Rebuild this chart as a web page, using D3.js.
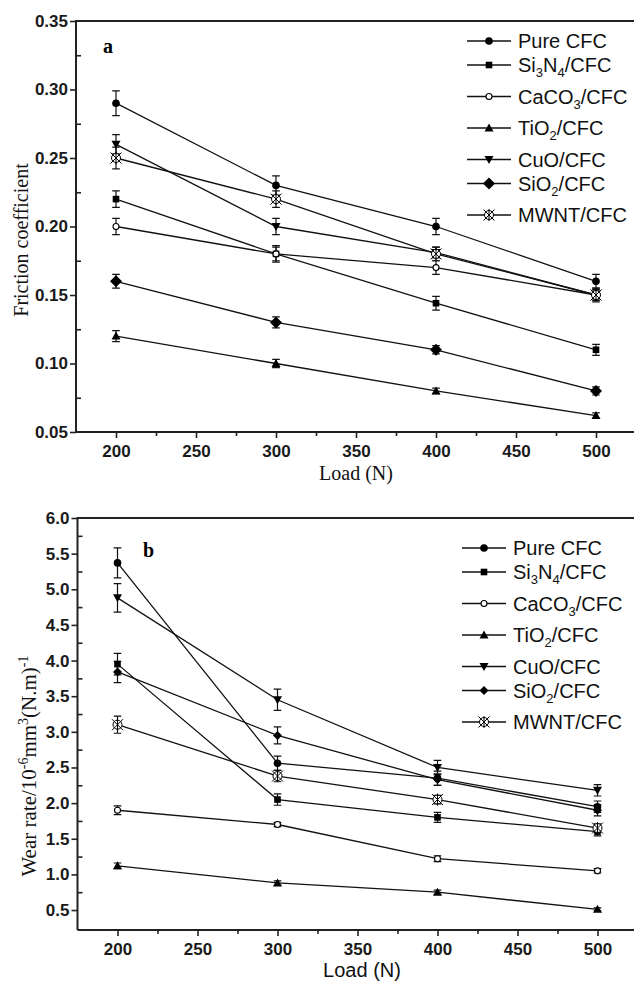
<!DOCTYPE html>
<html>
<head>
<meta charset="utf-8">
<script src="https://cdn.jsdelivr.net/npm/d3@7"></script>
<style>
  html, body { margin: 0; padding: 0; background: #fff; }
  svg { display: block; }
</style>
</head>
<body>
<svg id="chart" width="634" height="981"></svg>
<script>
// ---------------- DATA ----------------
const loads = [200, 300, 400, 500];
const legendLabels = ["Pure CFC", "Si_3N_4/CFC", "CaCO_3/CFC", "TiO_2/CFC", "CuO/CFC", "SiO_2/CFC", "MWNT/CFC"];
const markerTypes = ["circle", "square", "openCircle", "triangleUp", "triangleDown", "diamond", "mwnt"];

const xTicks = [200, 250, 300, 350, 400, 450, 500];
const xMinorTicks = [225, 275, 325, 375, 425, 475];

// (a) friction coefficient
const frictionPure  = [0.290, 0.230, 0.200, 0.160];
const frictionSi3N4 = [0.220, 0.180, 0.144, 0.110];
const frictionCaCO3 = [0.200, 0.180, 0.170, 0.150];
const frictionTiO2  = [0.120, 0.100, 0.080, 0.062];
const frictionCuO   = [0.260, 0.200, 0.181, 0.150];
const frictionSiO2  = [0.160, 0.130, 0.110, 0.080];
const frictionMWNT  = [0.250, 0.220, 0.180, 0.150];

const frictionErrPure  = [0.009, 0.007, 0.006, 0.005];
const frictionErrSi3N4 = [0.006, 0.006, 0.005, 0.004];
const frictionErrCaCO3 = [0.006, 0.005, 0.005, 0.003];
const frictionErrTiO2  = [0.004, 0.003, 0.002, 0.002];
const frictionErrCuO   = [0.007, 0.006, 0.004, 0.004];
const frictionErrSiO2  = [0.005, 0.004, 0.003, 0.003];
const frictionErrMWNT  = [0.008, 0.006, 0.005, 0.005];

const frictionTicks = [0.05, 0.10, 0.15, 0.20, 0.25, 0.30, 0.35];
const frictionMinorTicks = [0.075, 0.125, 0.175, 0.225, 0.275, 0.325];

// (b) wear rate
const wearPure  = [5.37, 2.56, 2.35, 1.95];
const wearSi3N4 = [3.95, 2.05, 1.80, 1.60];
const wearCaCO3 = [1.90, 1.70, 1.22, 1.05];
const wearTiO2  = [1.12, 0.88, 0.75, 0.51];
const wearCuO   = [4.88, 3.45, 2.50, 2.18];
const wearSiO2  = [3.84, 2.95, 2.33, 1.90];
const wearMWNT  = [3.10, 2.38, 2.05, 1.65];

const wearErrPure  = [0.21, 0.10, 0.10, 0.08];
const wearErrSi3N4 = [0.15, 0.08, 0.07, 0.06];
const wearErrCaCO3 = [0.06, 0.03, 0.04, 0.03];
const wearErrTiO2  = [0.04, 0.03, 0.03, 0.02];
const wearErrCuO   = [0.20, 0.15, 0.10, 0.08];
const wearErrSiO2  = [0.15, 0.12, 0.08, 0.08];
const wearErrMWNT  = [0.12, 0.08, 0.06, 0.06];

const wearTicks = [0.5, 1.0, 1.5, 2.0, 2.5, 3.0, 3.5, 4.0, 4.5, 5.0, 5.5, 6.0];
const wearMinorTicks = [0.75, 1.25, 1.75, 2.25, 2.75, 3.25, 3.75, 4.25, 4.75, 5.25, 5.75];

// ---------------- DRAW ----------------
const svg = d3.select("#chart");
const SANS = "'Liberation Sans', Arial, sans-serif";
const SERIF = "'Liberation Serif', 'Times New Roman', serif";

function drawMarker(g, type, cx, cy, diamondSize) {
  const k = g.append("g").attr("transform", `translate(${cx},${cy})`);
  switch (type) {
    case "circle":
      k.append("circle").attr("r", 3.8).attr("fill", "#000"); break;
    case "square":
      k.append("rect").attr("x", -3.3).attr("y", -3.3).attr("width", 6.6).attr("height", 6.6).attr("fill", "#000"); break;
    case "openCircle":
      k.append("circle").attr("r", 3).attr("fill", "#fff").attr("stroke", "#000").attr("stroke-width", 1.1); break;
    case "triangleUp":
      k.append("path").attr("d", "M0,-4.5L4.5,3.5L-4.5,3.5Z").attr("fill", "#000"); break;
    case "triangleDown":
      k.append("path").attr("d", "M0,4.5L4.5,-3.5L-4.5,-3.5Z").attr("fill", "#000"); break;
    case "diamond": {
      const s = diamondSize;
      k.append("path").attr("d", `M0,${-s}L${s},0L0,${s}L${-s},0Z`).attr("fill", "#000"); break;
    }
    case "mwnt": {
      k.append("circle").attr("r", 4.5).attr("fill", "#fff").attr("stroke", "#000").attr("stroke-width", 1);
      k.append("path").attr("d", "M-5.5,-5.5L5.5,5.5M5.5,-5.5L-5.5,5.5M0,-6L0,6")
        .attr("stroke", "#000").attr("stroke-width", 1).attr("fill", "none");
      break;
    }
  }
}

function addLabelText(textSel, label) {
  // "_x" marks a single subscript character
  const parts = [];
  let i = 0;
  while (i < label.length) {
    if (label[i] === "_") { parts.push({ t: label[i + 1], sub: true }); i += 2; }
    else {
      let j = i;
      while (j < label.length && label[j] !== "_") j++;
      parts.push({ t: label.slice(i, j), sub: false }); i = j;
    }
  }
  let prevSub = false;
  parts.forEach(p => {
    const ts = textSel.append("tspan").text(p.t);
    if (p.sub) { ts.attr("font-size", 13).attr("dy", prevSub ? 0 : 5); }
    else if (prevSub) { ts.attr("dy", -5); }
    prevSub = p.sub;
  });
}

function drawPanel(opt) {
  const x = d3.scaleLinear().domain([175, 525]).range(opt.xRange);
  const y = d3.scaleLinear().domain(opt.yDomain).range(opt.yRange);
  const g = svg.append("g");
  const [x0, x1] = opt.xRange;
  const [yb, yt] = opt.yRange;

  // frame lines (left, bottom, top)
  g.append("path").attr("d", `M${x0},${yb}L${x0},${yt}L${x1},${yt}M${x0},${yb}L${x1},${yb}`)
    .attr("stroke", "#222").attr("stroke-width", 2).attr("fill", "none");

  // y axis major (outward) and minor (inward)
  const yAx = g.append("g").attr("transform", `translate(${x0},0)`)
    .call(d3.axisLeft(y).tickValues(opt.yTicks).tickSize(6).tickPadding(2).tickFormat(d3.format(opt.yFmt)));
  const yMin = g.append("g").attr("transform", `translate(${x0},0)`)
    .call(d3.axisLeft(y).tickValues(opt.yMinor).tickSize(-5).tickFormat(""));
  // x axis major and minor (outward)
  const xAx = g.append("g").attr("transform", `translate(0,${yb})`)
    .call(d3.axisBottom(x).tickValues(xTicks).tickSize(6).tickPadding(7).tickFormat(d3.format("d")));
  const xMin = g.append("g").attr("transform", `translate(0,${yb})`)
    .call(d3.axisBottom(x).tickValues(xMinorTicks).tickSize(4).tickFormat(""));
  [yAx, yMin, xAx, xMin].forEach(a => {
    a.select(".domain").remove();
    a.selectAll("line").attr("stroke", "#222").attr("stroke-width", 1.6);
    a.selectAll("text").attr("font-family", SANS).attr("font-size", 17)
      .attr("font-weight", "bold").attr("fill", "#1a1a1a");
  });

  // series
  const line = d3.line().x((d, i) => x(loads[i])).y(d => y(d));
  opt.series.forEach((vals, s) => {
    g.append("path").datum(vals).attr("d", line)
      .attr("stroke", "#111").attr("stroke-width", 1.3).attr("fill", "none");
  });
  opt.series.forEach((vals, s) => {
    const errs = opt.errors[s];
    vals.forEach((v, i) => {
      const cx = x(loads[i]);
      const ylo = y(v - errs[i]), yhi = y(v + errs[i]);
      g.append("path").attr("d", `M${cx},${ylo}L${cx},${yhi}M${cx - 3.8},${ylo}L${cx + 3.8},${ylo}M${cx - 3.8},${yhi}L${cx + 3.8},${yhi}`)
        .attr("stroke", "#111").attr("stroke-width", 1.2).attr("fill", "none");
    });
  });
  opt.series.forEach((vals, s) => {
    vals.forEach((v, i) => drawMarker(g, markerTypes[s], x(loads[i]), y(v), opt.diamond));
  });

  // legend
  let ly = opt.legendY;
  legendLabels.forEach((lab, s) => {
    g.append("line").attr("x1", opt.legendX).attr("x2", opt.legendX + 44)
      .attr("y1", ly).attr("y2", ly).attr("stroke", "#111").attr("stroke-width", 1.3);
    drawMarker(g, markerTypes[s], opt.legendX + 22, ly, opt.diamond);
    const t = g.append("text").attr("x", opt.legendX + 51).attr("y", ly + 7)
      .attr("font-family", SANS).attr("font-size", 20).attr("fill", "#111");
    addLabelText(t, lab);
    ly += lab.includes("_") ? 31.5 : 24;
  });

  // panel letter
  g.append("text").attr("x", opt.letterPos[0]).attr("y", opt.letterPos[1])
    .attr("font-family", SERIF).attr("font-weight", "bold").attr("font-size", 20).text(opt.letter);

  return g;
}

const gA = drawPanel({
  xRange: [76, 636], yDomain: [0.05, 0.35], yRange: [432, 21],
  yTicks: frictionTicks, yMinor: frictionMinorTicks, yFmt: ".2f",
  series: [frictionPure, frictionSi3N4, frictionCaCO3, frictionTiO2, frictionCuO, frictionSiO2, frictionMWNT],
  errors: [frictionErrPure, frictionErrSi3N4, frictionErrCaCO3, frictionErrTiO2, frictionErrCuO, frictionErrSiO2, frictionErrMWNT],
  diamond: 6, legendX: 467, legendY: 41, letter: "a", letterPos: [103, 53]
});
gA.append("text").attr("transform", "translate(28,240) rotate(-90)").attr("text-anchor", "middle")
  .attr("font-family", SERIF).attr("font-size", 20).attr("fill", "#111").text("Friction coefficient");
gA.append("text").attr("x", 356).attr("y", 480).attr("text-anchor", "middle")
  .attr("font-family", SERIF).attr("font-size", 20).attr("fill", "#111").text("Load (N)");

const gB = drawPanel({
  xRange: [77.5, 637.5], yDomain: [0.22, 6.0], yRange: [930, 518],
  yTicks: wearTicks, yMinor: wearMinorTicks, yFmt: ".1f",
  series: [wearPure, wearSi3N4, wearCaCO3, wearTiO2, wearCuO, wearSiO2, wearMWNT],
  errors: [wearErrPure, wearErrSi3N4, wearErrCaCO3, wearErrTiO2, wearErrCuO, wearErrSiO2, wearErrMWNT],
  diamond: 4.5, legendX: 462, legendY: 548, letter: "b", letterPos: [143, 557]
});
const yt = gB.append("text").attr("transform", "translate(36,766) rotate(-90)").attr("text-anchor", "middle")
  .attr("font-family", SERIF).attr("font-size", 21).attr("fill", "#111");
yt.append("tspan").text("Wear rate/10");
yt.append("tspan").attr("font-size", 14).attr("dy", -8).text("-6");
yt.append("tspan").attr("dy", 8).text("mm");
yt.append("tspan").attr("font-size", 14).attr("dy", -8).text("3");
yt.append("tspan").attr("dy", 8).text("(N.m)");
yt.append("tspan").attr("font-size", 14).attr("dy", -8).text("-1");
gB.append("text").attr("x", 362).attr("y", 977).attr("text-anchor", "middle")
  .attr("font-family", SANS).attr("font-size", 20).attr("fill", "#111").text("Load (N)");
</script>
</body>
</html>
